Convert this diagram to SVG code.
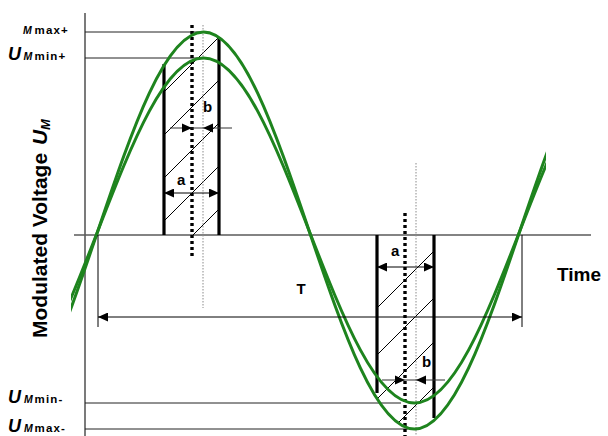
<svg xmlns="http://www.w3.org/2000/svg" width="608" height="436" viewBox="0 0 608 436">
<style>
text{font-family:"Liberation Sans",Arial,Helvetica,sans-serif;font-weight:bold;fill:#000}
.U{font-size:18px;font-style:italic}
.Ms{font-size:10.5px;font-style:italic}
.sm{font-size:11.5px;letter-spacing:1.2px}
.lbl{font-size:15px}
.axis{stroke:#5a5a5a;stroke-width:1.6;fill:none}
.lvl{stroke:#222;stroke-width:1;fill:none}
.curve{stroke:#1e841e;stroke-width:3;fill:none;stroke-linejoin:round}
.thick{stroke:#000;stroke-width:3.2;fill:none}
.tdot{stroke:#000;stroke-width:3.4;stroke-dasharray:3 3;fill:none}
.fdot{stroke:#8a8a8a;stroke-width:1;stroke-dasharray:1.5 1.5;fill:none}
.hatch{stroke:#000;stroke-width:1;fill:none}
.arr{stroke:#000;stroke-width:1;fill:none}
.barr{stroke:#333;stroke-width:1;fill:none}
.head{fill:#000}
</style>
<defs>
<marker id="ah" viewBox="0 0 10 9" refX="10" refY="4.5" markerWidth="10" markerHeight="9" markerUnits="userSpaceOnUse" orient="auto-start-reverse">
<path d="M0,0 L10,4.5 L0,9 z" fill="#000"/>
</marker>
<clipPath id="cw"><rect x="71" y="0" width="475" height="436"/></clipPath>
</defs>

<g id="axes">
<line class="axis" x1="85" y1="13" x2="85" y2="436"/>
<line class="axis" x1="74" y1="235" x2="591" y2="235"/>
</g>

<g id="levels">
<line class="lvl" x1="85" y1="32" x2="204" y2="32"/>
<line class="lvl" x1="85" y1="58" x2="201" y2="58"/>
<line class="lvl" x1="85" y1="403" x2="401" y2="403"/>
<line class="lvl" x1="85" y1="429" x2="408" y2="429"/>
</g>

<g id="box-upper">
<line class="hatch" x1="164" y1="92" x2="219" y2="37"/>
<line class="hatch" x1="164" y1="135" x2="219" y2="80"/>
<line class="hatch" x1="164" y1="178" x2="219" y2="123"/>
<line class="hatch" x1="164" y1="221" x2="219" y2="166"/>
<line class="hatch" x1="193" y1="235" x2="219" y2="209"/>
<line class="thick" x1="164" y1="64" x2="164" y2="235"/>
<line class="thick" x1="219" y1="37" x2="219" y2="235"/>
<line class="tdot" x1="192" y1="25" x2="192" y2="257"/>
<line class="fdot" x1="203" y1="25" x2="203" y2="308"/>
</g>

<g id="box-lower">
<line class="hatch" x1="377" y1="308" x2="434" y2="251"/>
<line class="hatch" x1="377" y1="355" x2="434" y2="298"/>
<line class="hatch" x1="377" y1="399" x2="434" y2="342"/>
<line class="hatch" x1="399" y1="422" x2="434" y2="387"/>
<line class="thick" x1="377" y1="235" x2="377" y2="393"/>
<line class="thick" x1="434" y1="235" x2="434" y2="418"/>
<line class="tdot" x1="405" y1="213" x2="405" y2="436"/>
<line class="fdot" x1="416" y1="163" x2="416" y2="436"/>
</g>

<g id="curves" clip-path="url(#cw)">
<path class="curve" d="M-7.5,429 C30.68,429 63.6,332.19 98,230.5 C132.4,128.81 165.32,32 203.5,32 C241.68,32 274.6,128.81 309,230.5 C343.4,332.19 376.32,429 414.5,429 C452.68,429 485.6,332.19 520,230.5 C554.4,128.81 587.32,32 625.5,32"/>
<path class="curve" d="M-7.5,403 C30.68,403 63.6,318.87 98,230.5 C132.4,142.13 165.32,58 203.5,58 C241.68,58 274.6,142.13 309,230.5 C343.4,318.87 376.32,403 414.5,403 C452.68,403 485.6,318.87 520,230.5 C554.4,142.13 587.32,58 625.5,58"/>
</g>

<g id="connectors">
<line class="arr" x1="98" y1="235" x2="98" y2="327"/>
<line class="arr" x1="522" y1="235" x2="522" y2="327"/>
<line class="arr" x1="98" y1="317" x2="522" y2="317" marker-start="url(#ah)" marker-end="url(#ah)"/>
<line class="arr" x1="164" y1="193" x2="219" y2="193" marker-start="url(#ah)" marker-end="url(#ah)"/>
<line class="arr" x1="377" y1="267" x2="434" y2="267" marker-start="url(#ah)" marker-end="url(#ah)"/>
<line class="barr" x1="170" y1="128" x2="232" y2="128"/>
<polygon class="head" points="182,123.5 192,128 182,132.5"/>
<polygon class="head" points="213,123.5 203,128 213,132.5"/>
<line class="barr" x1="382" y1="380" x2="445" y2="380"/>
<polygon class="head" points="395,375.5 405,380 395,384.5"/>
<polygon class="head" points="426,375.5 416,380 426,384.5"/>
</g>

<g id="labels">
<text x="23" y="34"><tspan class="Ms">M</tspan><tspan class="sm" x="34.5">max+</tspan></text>
<text x="8" y="60"><tspan class="U">U</tspan><tspan class="Ms" x="23.5">M</tspan><tspan class="sm" x="34.5">min+</tspan></text>
<text x="8" y="403"><tspan class="U">U</tspan><tspan class="Ms" x="24">M</tspan><tspan class="sm" x="34.5">min-</tspan></text>
<text x="8" y="432"><tspan class="U">U</tspan><tspan class="Ms" x="24">M</tspan><tspan class="sm" x="34.5">max-</tspan></text>
<text class="lbl" x="203" y="112">b</text>
<text class="lbl" x="177" y="185">a</text>
<text class="lbl" x="391" y="256">a</text>
<text class="lbl" x="422" y="367">b</text>
<text class="lbl" x="301" y="294" text-anchor="middle">T</text>
<text x="557" y="281" style="font-size:19px">Time</text>
<text transform="translate(47,338) rotate(-90)" style="font-size:21px">Modulated Voltage <tspan font-style="italic" dx="2">U</tspan><tspan font-style="italic" font-size="13px" dy="3">M</tspan></text>
</g>
</svg>
